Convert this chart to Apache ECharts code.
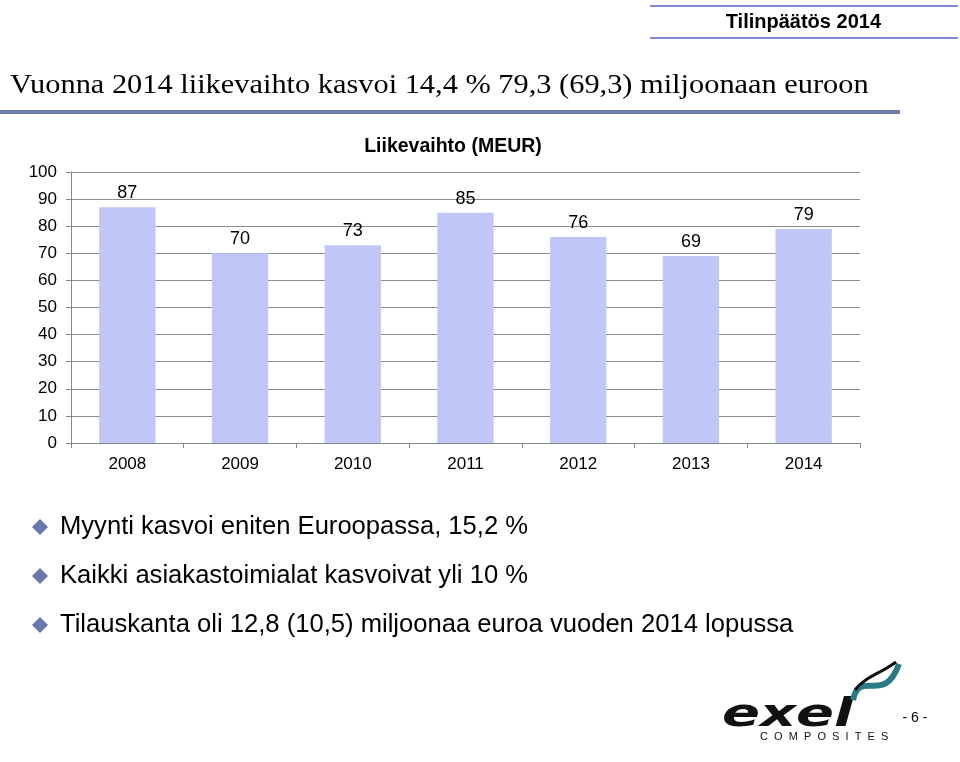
<!DOCTYPE html>
<html>
<head>
<meta charset="utf-8">
<script src="https://cdn.jsdelivr.net/npm/echarts@6/dist/echarts.min.js"></script>
<style>
  html, body { margin: 0; padding: 0; background: #fff; }
  #main { width: 960px; height: 762px; }
</style>
</head>
<body>
<div id="main"></div>
<script>
// liikevaihto vuosittain (MEUR)
var years = ['2008', '2009', '2010', '2011', '2012', '2013', '2014'];
var revenue = [87, 70, 73, 85, 76, 69, 79];
var yTicks = [0, 100, 10]; // min, max, väli

var bullets = [
  'Myynti kasvoi eniten Euroopassa, 15,2 %',
  'Kaikki asiakastoimialat kasvoivat yli 10 %',
  'Tilauskanta oli 12,8 (10,5) miljoonaa euroa vuoden 2014 lopussa'
];

var myChart = echarts.init(document.getElementById('main'));

var graphics = [
  // yläreunan otsake
  { type: 'line', shape: { x1: 650, y1: 6, x2: 958, y2: 6 }, style: { stroke: '#7f86dc', lineWidth: 2 } },
  { type: 'line', shape: { x1: 650, y1: 38, x2: 958, y2: 38 }, style: { stroke: '#7f86dc', lineWidth: 2 } },
  { type: 'text', x: 881, y: 22, style: { text: 'Tilinpäätös 2014', font: 'bold 20px "Liberation Sans", Arial', fill: '#000', align: 'right', verticalAlign: 'middle' } },
  // otsikko
  { type: 'text', x: 10, y: 86, scaleX: 1.125, style: { text: 'Vuonna 2014 liikevaihto kasvoi 14,4 % 79,3 (69,3) miljoonaan euroon', font: '27px "Liberation Serif", "Times New Roman", serif', fill: '#000', verticalAlign: 'middle' } },
  { type: 'rect', shape: { x: 0, y: 110, width: 900, height: 4 }, style: { fill: '#6c7ba6' } },
  // sivunumero
  { type: 'text', x: 915, y: 718, style: { text: '- 6 -', font: '14px "Liberation Sans", Arial', fill: '#000', align: 'center', verticalAlign: 'middle' } },
  // logo
  { type: 'text', x: 722, y: 716, scaleX: 1.12, scaleY: 0.78, style: { text: 'exel', font: 'italic bold 50px "DejaVu Sans", sans-serif', fill: '#111', verticalAlign: 'middle' } },
  { type: 'text', x: 760, y: 737, style: { text: 'C  O  M  P  O  S  I  T  E  S', font: '11px "Liberation Sans", Arial', fill: '#111', verticalAlign: 'middle' } },
  { type: 'bezierCurve', shape: { x1: 853, y1: 700, cpx1: 860, cpy1: 668, cpx2: 884, cpy2: 706, x2: 899, y2: 664 }, style: { stroke: '#2a7a86', lineWidth: 6, fill: null } },
  { type: 'bezierCurve', shape: { x1: 855, y1: 690, cpx1: 866, cpy1: 676, cpx2: 880, cpy2: 674, x2: 896, y2: 662 }, style: { stroke: '#111', lineWidth: 3, fill: null } }
];

bullets.forEach(function (t, i) {
  var cy = 527 + i * 49;
  graphics.push({ type: 'polygon', shape: { points: [[40, cy - 8], [48, cy], [40, cy + 8], [32, cy]] }, style: { fill: '#6a78b0' } });
  graphics.push({ type: 'text', x: 60, y: cy, style: { text: t, font: '25.6px "Liberation Sans", Arial', fill: '#000', verticalAlign: 'middle' } });
});

var option = {
  animation: false,
  title: {
    text: 'Liikevaihto (MEUR)',
    left: 448,
    top: 132,
    textAlign: 'center',
    textStyle: { fontFamily: '"Liberation Sans", Arial', fontSize: 19.5, fontWeight: 'bold', color: '#000' }
  },
  grid: { left: 71, right: 100, top: 172, bottom: 319, containLabel: false },
  xAxis: {
    type: 'category',
    data: years,
    axisLine: { lineStyle: { color: '#888', width: 1 } },
    axisTick: { show: true, length: 5, lineStyle: { color: '#888' } },
    axisLabel: { color: '#000', fontSize: 17, fontFamily: '"Liberation Sans", Arial', margin: 13 }
  },
  yAxis: {
    type: 'value',
    min: yTicks[0],
    max: yTicks[1],
    interval: yTicks[2],
    axisLine: { show: true, lineStyle: { color: '#888' } },
    axisTick: { show: true, length: 5, lineStyle: { color: '#888' } },
    axisLabel: { color: '#000', fontSize: 17, fontFamily: '"Liberation Sans", Arial', margin: 14 },
    splitLine: { lineStyle: { color: '#8c8c8c', width: 1 } }
  },
  series: [{
    type: 'bar',
    data: revenue,
    barWidth: '50%',
    itemStyle: { color: '#c1c6f8' },
    label: { show: true, position: 'top', distance: 5, color: '#000', fontSize: 18, fontFamily: '"Liberation Sans", Arial' }
  }],
  graphic: graphics
};

myChart.setOption(option);
</script>
</body>
</html>
